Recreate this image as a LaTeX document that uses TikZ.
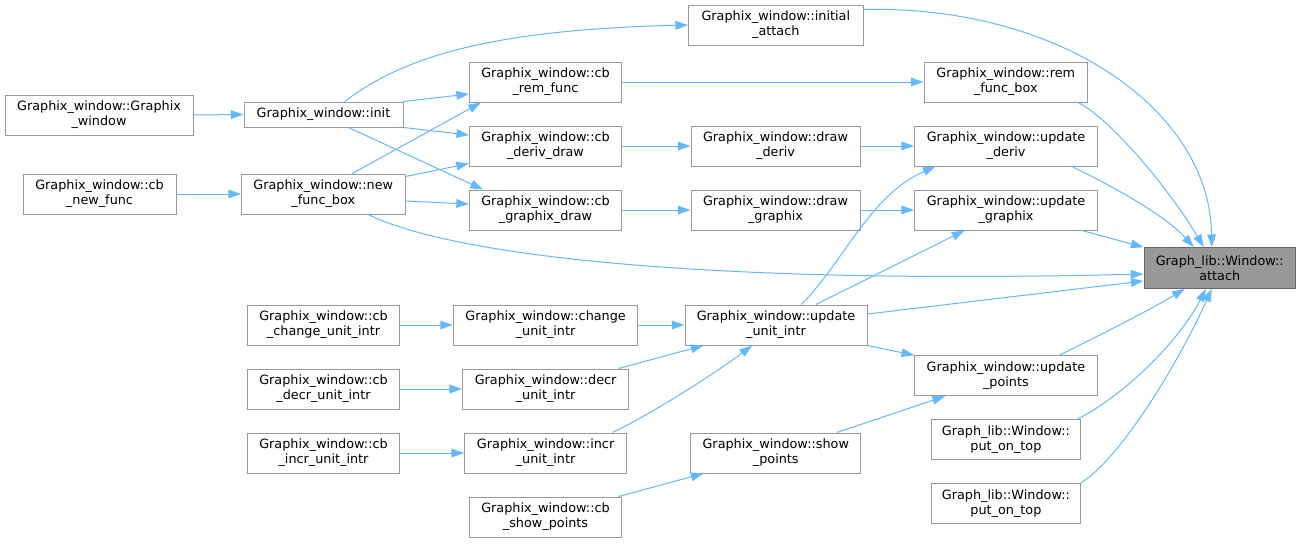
\documentclass[tikz,border=0pt]{standalone}
\usepackage{fontspec}
\setmainfont{DejaVu Sans}
\usetikzlibrary{arrows.meta,calc}
\definecolor{edgeblue}{HTML}{63B8FF}
\definecolor{boxline}{HTML}{999999}
\definecolor{curline}{HTML}{666666}
\definecolor{curfill}{HTML}{999999}
\begin{document}
\begin{tikzpicture}[x=0.75pt,y=-0.75pt,
  box/.style={draw=boxline, line width=0.75pt, fill=white, align=center, inner sep=0pt,
    minimum height=30pt, font=\fontsize{9.6}{11.3}\selectfont},
  cur/.style={box, draw=curline, fill=curfill, minimum height=30.5pt},
  bw/.style={minimum width=#1*0.75pt},
  edge/.style={draw=edgeblue, line width=0.75pt, -{Triangle[length=9.5pt,width=6.5pt]}}]
\useasboundingbox (0,0) rectangle (1303,543);
% nodes
\node[box,bw=188] (gwg) at (99,115) {Graphix\_window::Graphix\\\_window};
\node[box,bw=153] (cbnew) at (99.5,194) {Graphix\_window::cb\\\_new\_func};
\node[box,bw=159,minimum height=18.75pt] (init) at (323.5,114.5) {Graphix\_window::init};
\node[box,bw=163.5] (nfb) at (323.25,194) {Graphix\_window::new\\\_func\_box};
\node[box,bw=152] (cbrem) at (545.5,82) {Graphix\_window::cb\\\_rem\_func};
\node[box,bw=152] (cbderiv) at (545.5,146) {Graphix\_window::cb\\\_deriv\_draw};
\node[box,bw=152] (cbgraph) at (545.5,210) {Graphix\_window::cb\\\_graphix\_draw};
\node[box,bw=174.4] (initatt) at (775.8,25) {Graphix\_window::initial\\\_attach};
\node[box,bw=169] (drawderiv) at (775.5,146) {Graphix\_window::draw\\\_deriv};
\node[box,bw=169] (drawgraph) at (775.5,210) {Graphix\_window::draw\\\_graphix};
\node[box,bw=163.5] (remfb) at (1005.75,82) {Graphix\_window::rem\\\_func\_box};
\node[box,bw=183] (upderiv) at (1006,146) {Graphix\_window::update\\\_deriv};
\node[box,bw=183] (upgraph) at (1006,210) {Graphix\_window::update\\\_graphix};
\node[cur,bw=151.5] (attach) at (1219.75,268) {Graph\_lib::Window::\\attach};
\node[box,bw=152.3] (cbchange) at (323.5,325) {Graphix\_window::cb\\\_change\_unit\_intr};
\node[box,bw=184.3] (change) at (545.6,325) {Graphix\_window::change\\\_unit\_intr};
\node[box,bw=182] (upunit) at (776,325) {Graphix\_window::update\\\_unit\_intr};
\node[box,bw=152.3] (cbdecr) at (323.5,389) {Graphix\_window::cb\\\_decr\_unit\_intr};
\node[box,bw=166] (decr) at (545.6,389) {Graphix\_window::decr\\\_unit\_intr};
\node[box,bw=182.3] (uppoints) at (1005.9,375.7) {Graphix\_window::update\\\_points};
\node[box,bw=152.3] (cbincr) at (323.5,453) {Graphix\_window::cb\\\_incr\_unit\_intr};
\node[box,bw=162] (incr) at (545.6,453) {Graphix\_window::incr\\\_unit\_intr};
\node[box,bw=170] (showp) at (775.75,453) {Graphix\_window::show\\\_points};
\node[box,bw=149.7] (pot1) at (1005.9,439.7) {Graph\_lib::Window::\\put\_on\_top};
\node[box,bw=149.7] (pot2) at (1005.9,503.7) {Graph\_lib::Window::\\put\_on\_top};
\node[box,bw=152.3] (cbshow) at (545.5,517) {Graphix\_window::cb\\\_show\_points};
% edges
\draw[edge] (gwg.east) -- (init.west);
\draw[edge] (cbnew.east) -- (nfb.west);
\draw[edge] ($(init.north)+(21,0)$) .. controls (400,60) and (480,30) .. (initatt.west);
\draw[edge] (init.north east) -- ($(cbrem.west)+(0,12)$);
\draw[edge] (init.south east) -- ($(cbderiv.west)+(0,-11)$);
\draw[edge] ($(init.south)+(25,0)$) -- ($(cbgraph.north west)+(14,0)$);
\draw[edge] ($(nfb.north)+(29,0)$) -- ($(cbrem.south west)+(12,0)$);
\draw[edge] ($(nfb.north east)+(0,3)$) -- ($(cbderiv.south west)+(0,-3)$);
\draw[edge] ($(nfb.east)+(0,7)$) -- ($(cbgraph.west)+(0,-6)$);
\draw[edge] ($(nfb.south)+(45,0)$) .. controls (450,255) and (700,285) .. ($(attach.west)+(0,6)$);
\draw[edge] (cbrem.east) -- (remfb.west);
\draw[edge] (cbderiv.east) -- (drawderiv.west);
\draw[edge] (cbgraph.east) -- (drawgraph.west);
\draw[edge] (drawderiv.east) -- (upderiv.west);
\draw[edge] (drawgraph.east) -- (upgraph.west);
\draw[edge] ($(initatt.north east)+(0,5)$) .. controls (1060,5) and (1210,110) .. ($(attach.north)+(-8,0)$);
\draw[edge] ($(remfb.south east)+(-10,0)$) .. controls (1110,118) and (1170,190) .. ($(attach.north)+(-16,0)$);
\draw[edge] ($(upderiv.south east)+(-26,0)$) .. controls (1110,185) and (1165,215) .. ($(attach.north)+(-26,0)$);
\draw[edge] ($(upgraph.south east)+(-16,0)$) -- (attach.north west);
\draw[edge] ($(upunit.north)+(25.5,0)$) .. controls (845,260) and (870,195) .. ($(upderiv.south west)+(21.5,0)$);
\draw[edge] ($(upunit.north)+(40,0)$) -- ($(upgraph.south west)+(50.5,0)$);
\draw[edge] ($(upunit.east)+(0,-11)$) -- ($(attach.west)+(0,13)$);
\draw[edge] (upunit.south east) -- (uppoints.north west);
\draw[edge] (cbchange.east) -- (change.west);
\draw[edge] (change.east) -- (upunit.west);
\draw[edge] (cbdecr.east) -- (decr.west);
\draw[edge] ($(decr.north east)+(-10.6,0)$) -- ($(upunit.south west)+(19,0)$);
\draw[edge] (cbincr.east) -- (incr.west);
\draw[edge] ($(incr.north east)+(-14.6,0)$) .. controls (650,415) and (720,370) .. ($(upunit.south)+(-24,0)$);
\draw[edge] ($(showp.north)+(61,0)$) -- ($(uppoints.south west)+(30.7,0)$);
\draw[edge] ($(cbshow.north east)+(-3.6,0)$) -- ($(showp.south west)+(13.3,0)$);
\draw[edge] ($(uppoints.north east)+(-38.3,0)$) .. controls (1100,335) and (1150,310) .. ($(attach.south)+(-35,0)$);
\draw[edge] ($(pot1.north east)+(-4,0)$) .. controls (1125,395) and (1180,340) .. ($(attach.south)+(-14,0)$);
\draw[edge] ($(pot2.north east)+(-1,0)$) .. controls (1120,460) and (1180,360) .. ($(attach.south)+(-8,0)$);
\end{tikzpicture}
\end{document}
